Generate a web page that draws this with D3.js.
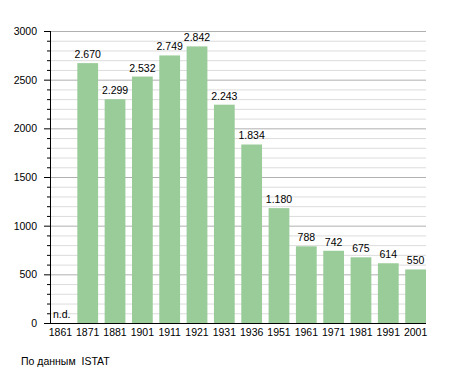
<!DOCTYPE html>
<html lang="ru">
<head>
  <meta charset="utf-8">
  <script src="https://d3js.org/d3.v7.min.js"></script>
  <style>
    body { margin: 0; background: #fff; }
    text { font-family: "Liberation Sans", Arial, sans-serif; fill: #000; }
  </style>
</head>
<body>
<script>
  // Population data (ISTAT)
  const years = ["1861", "1871", "1881", "1901", "1911", "1921", "1931", "1936", "1951", "1961", "1971", "1981", "1991", "2001"];
  const population = [null, 2670, 2299, 2532, 2749, 2842, 2243, 1834, 1180, 788, 742, 675, 614, 550];
  const yTicks = [0, 500, 1000, 1500, 2000, 2500, 3000];
  const sourceText = "По данным  ISTAT";

  const W = 455, H = 373;
  const plotLeft = 50, plotRight = 426, plotTop = 31, plotBottom = 323;

  const svg = d3.select("body").append("svg")
    .attr("width", W)
    .attr("height", H);

  const x = d3.scaleBand()
    .domain(years)
    .range([plotLeft, plotRight])
    .paddingInner(0.24)
    .paddingOuter(0);

  const y = d3.scaleLinear()
    .domain([0, 3000])
    .range([plotBottom, plotTop]);

  // minor grid every 100
  const minor = d3.range(100, 3001, 100).filter(v => v % 500 !== 0);
  svg.append("g").selectAll("line")
    .data(minor)
    .enter().append("line")
    .attr("x1", plotLeft).attr("x2", plotRight)
    .attr("y1", d => y(d) + 0.5).attr("y2", d => y(d) + 0.5)
    .attr("stroke", "#dcdcdc");

  // major grid every 500
  svg.append("g").selectAll("line")
    .data(yTicks.filter(v => v > 0))
    .enter().append("line")
    .attr("x1", plotLeft).attr("x2", plotRight)
    .attr("y1", d => y(d) + 0.5).attr("y2", d => y(d) + 0.5)
    .attr("stroke", "#b0b0b0");

  // bars
  const data = years.map((yr, i) => ({ year: yr, value: population[i] }));
  svg.append("g").selectAll("rect")
    .data(data.filter(d => d.value != null))
    .enter().append("rect")
    .attr("x", d => x(d.year))
    .attr("y", d => y(d.value))
    .attr("width", x.bandwidth())
    .attr("height", d => y(0) - y(d.value))
    .attr("fill", "#99cc99");

  // value labels
  const fmt = v => d3.format(",")(v).replace(/,/g, ".");
  svg.append("g").selectAll("text")
    .data(data)
    .enter().append("text")
    .attr("x", d => d.value == null ? x(d.year) + 3 : x(d.year) + x.bandwidth() / 2)
    .attr("y", d => d.value == null ? y(0) - 5 : y(d.value) - 5)
    .attr("text-anchor", d => d.value == null ? "start" : "middle")
    .attr("font-size", 10.5)
    .text(d => d.value == null ? "n.d." : fmt(d.value));

  // axes lines
  svg.append("line")
    .attr("x1", plotLeft + 0.5).attr("x2", plotLeft + 0.5)
    .attr("y1", plotTop).attr("y2", plotBottom + 0.5)
    .attr("stroke", "#000");
  svg.append("line")
    .attr("x1", plotLeft - 6).attr("x2", plotRight)
    .attr("y1", plotBottom + 0.5).attr("y2", plotBottom + 0.5)
    .attr("stroke", "#000");

  // y ticks
  svg.append("g").selectAll("line")
    .data(d3.range(0, 3001, 100))
    .enter().append("line")
    .attr("x1", d => d % 500 === 0 ? plotLeft - 6 : plotLeft - 3)
    .attr("x2", plotLeft)
    .attr("y1", d => y(d) + 0.5).attr("y2", d => y(d) + 0.5)
    .attr("stroke", "#000");

  svg.append("g").selectAll("text")
    .data(yTicks)
    .enter().append("text")
    .attr("x", 37)
    .attr("y", d => y(d) + 4)
    .attr("text-anchor", "end")
    .attr("font-size", 10.5)
    .text(d => d);

  // x labels
  svg.append("g").selectAll("text")
    .data(years)
    .enter().append("text")
    .attr("x", d => x(d) + x.bandwidth() / 2)
    .attr("y", plotBottom + 13)
    .attr("text-anchor", "middle")
    .attr("font-size", 10.5)
    .text(d => d);

  svg.append("text")
    .attr("x", 21)
    .attr("y", 365)
    .attr("font-size", 10.5)
    .style("white-space", "pre")
    .text(sourceText);
</script>
</body>
</html>
